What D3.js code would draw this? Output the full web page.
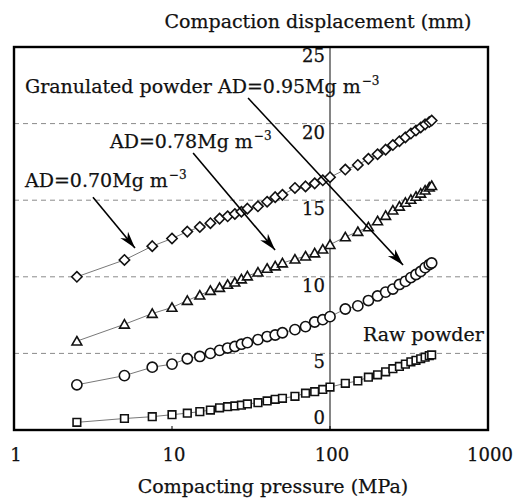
<!DOCTYPE html>
<html>
  <head>
    <title>Compaction displacement</title>
    <meta charset="utf-8">
    <style>
    body {
      margin: 0;
      background: #fff;
    }
    svg text {
      font-family: "DejaVu Serif", serif;
      fill: #111;
      stroke: #111;
      stroke-width: 0.25;
    }
    .grid line {
      stroke: #8a8a8a;
      stroke-width: 1;
      stroke-dasharray: 5,4;
    }
    .series path.link {
      fill: none;
      stroke: #555;
      stroke-width: 0.8;
    }
    .series .mark {
      fill: #fff;
      stroke: #111;
      stroke-width: 1.6;
    }
    .arrow {
      stroke: #000;
      stroke-width: 1.6;
    }
    </style>
    <script src="https://d3js.org/d3.v7.min.js"></script>
  </head>
  <body>
    <svg id="chart"></svg>
    <script>
      // compacting pressure (MPa), shared by all four runs
      var pressure = [2.5, 5, 7.5, 10, 12.5, 15, 17.5, 20, 22.5, 25, 27.5, 30, 35, 40, 45, 50,
                      60, 70, 80, 90, 100, 125, 150, 175, 200, 225, 250, 275, 300, 325, 350,
                      375, 400, 425, 440];

      // compaction displacement (mm)
      var granulated095 = [10.0, 11.1, 12.0, 12.5, 12.95, 13.25, 13.5, 13.8, 13.95, 14.1, 14.25, 14.45, 14.6, 14.9, 15.2, 15.35,
                           15.8, 15.9, 16.1, 16.3, 16.5, 17.0, 17.3, 17.7, 18.0, 18.3, 18.6, 18.85, 19.1, 19.35, 19.55,
                           19.75, 19.95, 20.1, 20.2];
      var ad078 = [5.8, 6.9, 7.6, 8.0, 8.45, 8.8, 9.1, 9.3, 9.5, 9.65, 9.85, 10.05, 10.3, 10.55, 10.7, 10.9,
                   11.15, 11.35, 11.55, 11.8, 12.1, 12.6, 12.95, 13.25, 13.65, 14.0, 14.35, 14.6, 14.85, 15.05, 15.25,
                   15.45, 15.65, 15.85, 15.95];
      var ad070 = [2.95, 3.55, 4.1, 4.3, 4.65, 4.8, 5.0, 5.2, 5.35, 5.45, 5.6, 5.7, 5.9, 6.1, 6.2, 6.35,
                   6.55, 6.75, 7.05, 7.2, 7.4, 7.9, 8.1, 8.45, 8.75, 9.0, 9.2, 9.5, 9.7, 9.95, 10.15,
                   10.35, 10.6, 10.8, 10.9];
      var rawPowder = [0.5, 0.75, 0.87, 1.0, 1.1, 1.2, 1.3, 1.45, 1.52, 1.57, 1.62, 1.7, 1.78, 1.9, 2.0, 2.07,
                       2.2, 2.4, 2.5, 2.65, 2.8, 3.05, 3.2, 3.45, 3.6, 3.8, 4.0, 4.15, 4.3, 4.45, 4.55,
                       4.65, 4.75, 4.85, 4.9];

      var xTicks = [1, 10, 100, 1000];
      var yTicks = [0, 5, 10, 15, 20, 25];
      var gridValues = [5, 10, 15, 20];

      var width = 519,
          height = 501;
      var plotLeft = 14, plotRight = 488, plotTop = 47, plotBottom = 430;

      var x = d3.scaleLog().domain([1, 1000]).range([plotLeft, plotRight]);
      var y = d3.scaleLinear().domain([0, 25]).range([plotBottom, plotTop]);

      var svg = d3.select("#chart")
          .attr("width", width)
          .attr("height", height);

      svg.append("defs").append("marker")
          .attr("id", "head")
          .attr("viewBox", "-17 -6 19 12")
          .attr("refX", 0)
          .attr("refY", 0)
          .attr("markerWidth", 19)
          .attr("markerHeight", 12)
          .attr("markerUnits", "userSpaceOnUse")
          .attr("orient", "auto")
        .append("path")
          .attr("d", "M0,0 L-17,-5 L-12,0 L-17,5 Z")
          .attr("fill", "#000");

      // dashed grid
      svg.append("g")
          .attr("class", "grid")
        .selectAll("line")
        .data(gridValues)
        .enter().append("line")
          .attr("x1", plotLeft)
          .attr("x2", plotRight)
          .attr("y1", function(d) { return y(d); })
          .attr("y2", function(d) { return y(d); });

      // y axis sits at 100 MPa
      svg.append("line")
          .attr("x1", x(100)).attr("x2", x(100))
          .attr("y1", plotTop).attr("y2", plotBottom)
          .attr("stroke", "#666")
          .attr("stroke-width", 1.6);

      svg.append("g")
        .selectAll("text")
        .data(yTicks)
        .enter().append("text")
          .attr("x", x(100) - 5)
          .attr("y", function(d) { return d == 0 ? y(d) - 6 : y(d) + 15; })
          .attr("text-anchor", "end")
          .attr("font-size", 18)
          .text(function(d) { return d; });

      // x ticks + labels
      svg.append("g")
        .selectAll("line")
        .data(xTicks)
        .enter().append("line")
          .attr("x1", function(d) { return x(d); })
          .attr("x2", function(d) { return x(d); })
          .attr("y1", plotBottom)
          .attr("y2", plotBottom - 4)
          .attr("stroke", "#000");

      svg.append("g")
        .selectAll("text")
        .data(xTicks)
        .enter().append("text")
          .attr("x", function(d) { return x(d) + 2; })
          .attr("y", 461)
          .attr("text-anchor", "middle")
          .attr("font-size", 18)
          .text(function(d) { return d; });

      // plot frame
      svg.append("rect")
          .attr("x", plotLeft)
          .attr("y", plotTop)
          .attr("width", plotRight - plotLeft)
          .attr("height", plotBottom - plotTop)
          .attr("fill", "none")
          .attr("stroke", "#000")
          .attr("stroke-width", 2.4);

      var series = [
        {name: "granulated", values: granulated095, shape: "diamond"},
        {name: "ad078", values: ad078, shape: "triangle"},
        {name: "ad070", values: ad070, shape: "circle"},
        {name: "raw", values: rawPowder, shape: "square"}
      ];

      var line = d3.line()
          .x(function(d) { return x(d[0]); })
          .y(function(d) { return y(d[1]); });

      var symbols = {
        diamond: d3.symbol().type(d3.symbolDiamond2).size(68),
        triangle: d3.symbol().type(d3.symbolTriangle2).size(68),
        circle: d3.symbol().type(d3.symbolCircle).size(82),
        square: d3.symbol().type(d3.symbolSquare2).size(74)
      };

      var g = svg.selectAll("g.series")
          .data(series)
          .enter().append("g")
            .attr("class", "series");

      g.append("path")
          .attr("class", "link")
          .attr("d", function(s) {
            return line(pressure.map(function(p, i) { return [p, s.values[i]]; }));
          });

      g.each(function(s) {
        d3.select(this).selectAll("path.mark")
          .data(pressure.map(function(p, i) { return [p, s.values[i]]; }))
          .enter().append("path")
            .attr("class", "mark")
            .attr("transform", function(d) {
              return "translate(" + x(d[0]) + "," + (y(d[1]) + (s.shape == "triangle" ? 1 : 0)) + ")";
            })
            .attr("d", symbols[s.shape]());
      });

      // annotations
      function label(tx, ty, main, sup) {
        var t = svg.append("text")
            .attr("x", tx)
            .attr("y", ty)
            .attr("font-size", 19);
        t.append("tspan").text(main);
        if (sup) {
          t.append("tspan")
              .attr("dy", -8)
              .attr("dx", 1)
              .attr("font-size", 12)
              .text(sup);
        }
      }

      label(25, 93, "Granulated powder AD=0.95Mg m", "\u22123");
      label(110, 148, "AD=0.78Mg m", "\u22123");
      label(25, 187, "AD=0.70Mg m", "\u22123");
      label(363, 341, "Raw powder");

      var arrows = [
        [[3.16, 15.2], [5.83, 11.88]],
        [[13.6, 18.08], [44.9, 11.75]],
        [[30.3, 21.67], [290, 10.77]]
      ];

      svg.append("g")
        .selectAll("line")
        .data(arrows)
        .enter().append("line")
          .attr("class", "arrow")
          .attr("x1", function(d) { return x(d[0][0]); })
          .attr("y1", function(d) { return y(d[0][1]); })
          .attr("x2", function(d) { return x(d[1][0]); })
          .attr("y2", function(d) { return y(d[1][1]); })
          .attr("marker-end", "url(#head)");

      // titles
      svg.append("text")
          .attr("x", 318)
          .attr("y", 28)
          .attr("text-anchor", "middle")
          .attr("font-size", 19)
          .text("Compaction displacement (mm)");

      svg.append("text")
          .attr("x", 273)
          .attr("y", 493)
          .attr("text-anchor", "middle")
          .attr("font-size", 19)
          .text("Compacting pressure (MPa)");
    </script>
  </body>
</html>
